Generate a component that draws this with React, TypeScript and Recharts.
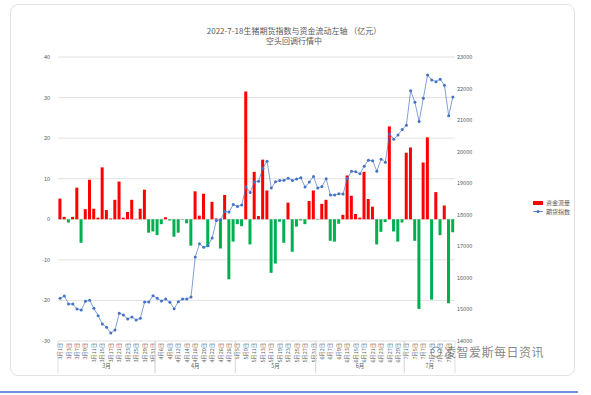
import React from "react";
import { ComposedChart, Bar, Line, XAxis, YAxis, CartesianGrid, Cell, Legend } from "recharts";

const monthNames = ["3月", "4月", "5月", "6月", "7月"];
const tradingDays = [
  [1, 2, 3, 4, 7, 8, 9, 10, 11, 14, 15, 16, 17, 18, 21, 22, 23, 24, 25, 28, 29, 30, 31],
  [1, 6, 7, 8, 11, 12, 13, 14, 15, 18, 19, 20, 21, 22, 25, 26, 27, 28, 29],
  [5, 6, 9, 10, 11, 12, 13, 16, 17, 18, 19, 20, 23, 24, 25, 26, 27, 30, 31],
  [1, 2, 6, 7, 8, 9, 10, 13, 14, 15, 16, 17, 20, 21, 22, 23, 24, 27, 28, 29, 30],
  [1, 4, 5, 6, 7, 8, 11, 12, 13, 14, 15, 18],
];

// 资金流量（亿元）
const flow = [
  5.1, 0.6, -0.8, 0.6, 7.8, -5.8, 2.5, 9.75, 2.6, 0.4, 12.8, 2.3, 0.2, 4.8, 9.3, 0.4, 1.8, 4.8, 0.1, 2.6, 7.3, -3.3, -3.0,
  -3.9, -1.2, 0.5, -0.3, -4.3, -3.3, -0.1, -1.0, -6.5, 6.9, 0.9, 6.3, -6.8, 4.3, 0.2, -7.2, 6.0, -14.8, -5.5,
  -1.2, -1.7, 31.5, -6.2, 11.7, 0.8, 14.7, 7.1, -13.2, -10.9, -0.6, -5.8, 4.1, -8.0, -1.8, -0.3, -1.2, 4.5, 7.1,
  -0.1, 3.8, 4.8, -5.3, -5.5, -1.1, 1.1, 10.8, 5.8, 1.3, 0.4, 11.7, 5.0, 3.1, -6.2, -3.1, -0.7, 22.9, -3.0, -5.5, -0.8,
  16.4, 17.7, -5.3, -22.1, 14.0, 20.2, -19.8, 6.7, -3.9, 3.4, -20.7, -3.2,
];

// 期货指数
const futuresIndex = [
  15351, 15427, 15174, 15174, 15016, 14984, 15256, 15288, 15035, 14804, 14541, 14434, 14256, 14351, 14877, 14826,
  14700, 14763, 14668, 14718, 15237, 15237, 15437,
  15351, 15269, 15332, 15225, 15025, 15247, 15332, 15332, 15396, 16661, 17082, 16970, 17020, 17263, 17820, 17842,
  18105, 18085, 18326,
  18263, 18307, 18877, 18706, 19035, 19066, 19478, 19700, 18845, 19044, 19085, 19098, 19161, 19085, 19130, 19171,
  18877, 19035, 19212,
  18845, 18896, 19139, 18623, 18623, 18665, 18655, 19149, 19383, 19361, 19297, 19541, 19731, 19709, 19383, 19763,
  19668, 20563, 20396, 20532, 20700,
  20839, 21934, 21566, 20953, 21693, 22430, 22272, 22218, 22294, 22104, 21142, 21734,
];

const leftTicks = [-30, -20, -10, 0, 10, 20, 30, 40];
const rightTicks = [14000, 15000, 16000, 17000, 18000, 19000, 20000, 21000, 22000, 23000];

const dates: string[] = [];
const monthOf: number[] = [];
tradingDays.forEach((days, m) =>
  days.forEach((d) => {
    dates.push(`${monthNames[m]}${d}日`);
    monthOf.push(m);
  })
);

const data = dates.map((date, i) => ({ date, flow: flow[i], idx: futuresIndex[i] }));

const textColor = "#595959";
const font = "'Noto Sans CJK SC', 'Noto Sans', sans-serif";

function DateTick(props: any) {
  const { x, y, payload, index } = props;
  const i = index;
  const half = payload.offset || 2.4;
  const m = monthOf[i];
  const first = i === 0 || monthOf[i - 1] !== m;
  const last = i === dates.length - 1 || monthOf[i + 1] !== m;
  const start = monthOf.indexOf(m);
  const count = tradingDays[m].length;
  let monthLabel: number | null = null;
  if (count % 2 === 1 && i === start + (count - 1) / 2) monthLabel = x;
  if (count % 2 === 0 && i === start + count / 2) monthLabel = x - half;
  return (
    <g>
      {i % 2 === 0 && (
        <text
          x={x}
          y={y + 2}
          transform={`rotate(-90, ${x}, ${y + 2})`}
          textAnchor="end"
          dominantBaseline="central"
          fontSize={5.3}
          fill={textColor}
          fontFamily={font}
        >
          {payload.value}
        </text>
      )}
      {first && <line x1={x - half} x2={x - half} y1={y} y2={y + 32} stroke="#D9D9D9" strokeWidth={0.8} />}
      {last && <line x1={x + half} x2={x + half} y1={y} y2={y + 32} stroke="#D9D9D9" strokeWidth={0.8} />}
      {monthLabel !== null && (
        <text x={monthLabel} y={y + 27} textAnchor="middle" fontSize={5.5} fill={textColor} fontFamily={font}>
          {monthNames[m]}
        </text>
      )}
    </g>
  );
}

function LegendBox() {
  return (
    <div style={{ fontSize: 6, color: textColor, fontFamily: font, lineHeight: "9px" }}>
      <div style={{ display: "flex", alignItems: "center" }}>
        <span style={{ display: "inline-block", width: 10, height: 4, background: "#FF0000", marginRight: 3 }} />
        资金流量
      </div>
      <div style={{ display: "flex", alignItems: "center" }}>
        <svg width={10} height={5} style={{ marginRight: 3 }}>
          <line x1={0} x2={10} y1={2.5} y2={2.5} stroke="#4472C4" strokeWidth={0.8} />
          <circle cx={5} cy={2.5} r={1.5} fill="#4472C4" />
        </svg>
        期货指数
      </div>
    </div>
  );
}

export default function App() {
  return (
    <div style={{ position: "absolute", left: 0, top: 0, width: 591, height: 395, background: "#fff", fontFamily: font }}>
      <div
        style={{
          position: "absolute",
          left: 10,
          top: 4,
          width: 565,
          height: 372,
          border: "1px solid #E3E3E3",
          borderRadius: 8,
          boxSizing: "border-box",
        }}
      />
      <div style={{ position: "absolute", left: 0, top: 391, width: 578, height: 1.5, background: "#6F8FE0" }} />
      <div
        style={{
          position: "absolute",
          left: 144,
          width: 300,
          top: 26,
          textAlign: "center",
          fontSize: 8,
          lineHeight: "10px",
          color: textColor,
        }}
      >
        <div>2022-7-18生猪期货指数与资金流动左轴 （亿元）</div>
        <div>空头回调行情中</div>
      </div>
      <div style={{ position: "absolute", left: 0, top: 0 }}>
        <ComposedChart width={591} height={395} data={data} margin={{ top: 57, right: 48, bottom: 18, left: 10 }} barCategoryGap="10%">
          <CartesianGrid yAxisId="left" vertical={false} stroke="#D9D9D9" strokeWidth={0.8} />
          <XAxis
            dataKey="date"
            interval={0}
            height={36}
            axisLine={false}
            tickLine={false}
            tickSize={0}
            tickMargin={0}
            tick={<DateTick />}
          />
          <YAxis
            yAxisId="left"
            domain={[-30, 40]}
            ticks={leftTicks}
            width={48}
            axisLine={false}
            tickLine={false}
            tickSize={6}
            tick={{ fontSize: 5.5, fill: textColor, fontFamily: font }}
          />
          <YAxis
            yAxisId="right"
            orientation="right"
            domain={[14000, 23000]}
            ticks={rightTicks}
            width={30}
            axisLine={false}
            tickLine={false}
            tickSize={0}
            tickMargin={2}
            tick={{ fontSize: 5.5, fill: textColor, fontFamily: font, textAnchor: "start" }}
          />
          <Legend
            layout="horizontal"
            align="right"
            verticalAlign="middle"
            content={() => <LegendBox />}
            wrapperStyle={{ left: 533, top: 198, width: 58 }}
          />
          <Bar yAxisId="left" dataKey="flow" name="资金流量" fill="#FF0000" isAnimationActive={false}>
            {data.map((d, i) => (
              <Cell key={`c-${i}`} fill={d.flow >= 0 ? "#FF0000" : "#00B050"} />
            ))}
          </Bar>
          <Line
            yAxisId="right"
            dataKey="idx"
            name="期货指数"
            type="linear"
            stroke="#4472C4"
            strokeOpacity={0.75}
            strokeWidth={0.9}
            dot={{ r: 1.5, fill: "#4472C4", stroke: "none" }}
            isAnimationActive={false}
          />
        </ComposedChart>
      </div>
      <div
        style={{
          position: "absolute",
          left: 430,
          top: 343,
          display: "flex",
          alignItems: "center",
          color: "rgba(90,90,90,0.75)",
          fontSize: 12,
          letterSpacing: 0.5,
        }}
      >
        <svg width={12} height={12} style={{ marginRight: 2 }}>
          <circle cx={6} cy={6} r={5} fill="none" stroke="rgba(90,90,90,0.7)" strokeWidth={0.9} />
          <circle cx={4.3} cy={5} r={0.7} fill="rgba(90,90,90,0.7)" />
          <circle cx={7.7} cy={5} r={0.7} fill="rgba(90,90,90,0.7)" />
        </svg>
        凌智爱斯每日资讯
      </div>
    </div>
  );
}
